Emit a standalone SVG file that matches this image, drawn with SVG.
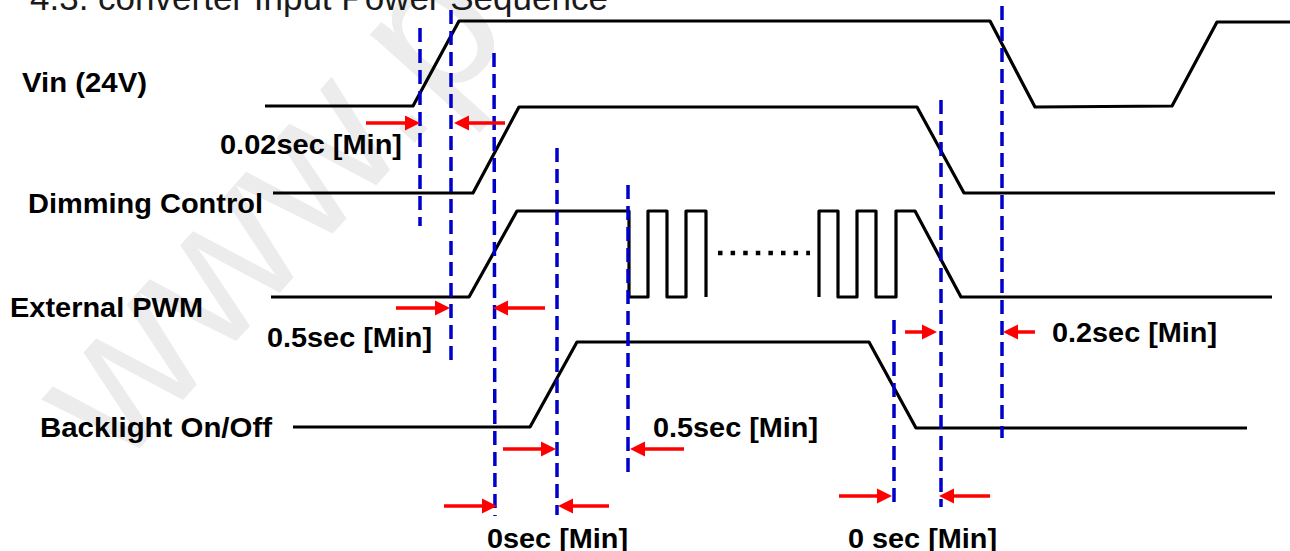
<svg xmlns="http://www.w3.org/2000/svg" width="1290" height="551" viewBox="0 0 1290 551">
<style>
.wm{font-family:"Liberation Sans",Arial,sans-serif;fill:#ececec}
.title{font-family:"Liberation Sans",Arial,sans-serif;font-size:35px;fill:#1a1a1a}
.lbl{font-family:"Liberation Sans",Arial,sans-serif;font-weight:bold;font-size:28.5px;fill:#000}
.sig{fill:none;stroke:#000;stroke-width:3.2;stroke-linejoin:round}
.dash{stroke:#0000cc;stroke-width:3.5;stroke-dasharray:14 7;fill:none}
.arr{stroke:#ff0000;stroke-width:3.5;fill:none;marker-end:url(#ah)}
</style>
<defs>
<marker id="ah" markerUnits="userSpaceOnUse" markerWidth="16" markerHeight="16" viewBox="0 0 16 16" refX="6" refY="8" orient="auto">
<path d="M0,0.5 L15,8 L0,15.5 z" fill="#ff0000"/>
</marker>
</defs>
<rect width="1290" height="551" fill="#fff"/>
<text class="wm" font-size="200" transform="translate(120,470) rotate(-48)">www.p</text>
<text class="title" x="30" y="10">4.3. converter Input Power Sequence</text>

<g id="vin">
<text class="lbl" x="22" y="92" textLength="125" lengthAdjust="spacingAndGlyphs">Vin (24V)</text>
<path class="sig" d="M265,106 L413,106 L459,21 L990,21 L1035,107 L1172,106 L1217,22 L1290,22"/>
</g>
<g id="dimming">
<text class="lbl" x="28" y="213" textLength="235" lengthAdjust="spacingAndGlyphs">Dimming Control</text>
<path class="sig" d="M273,193 L473,193 L519,107 L917,107 L964,193 L1275,193"/>
</g>
<g id="pwm">
<text class="lbl" x="10" y="317" textLength="193" lengthAdjust="spacingAndGlyphs">External PWM</text>
<path class="sig" d="M271,297 L469,297 L517,211 L629,211 L629,297 L648,297 L648,211 L667,211 L667,297 L686,297 L686,211 L706,211 L706,297"/>
<path d="M718,253 L810,253" stroke="#000" stroke-width="4.5" stroke-dasharray="4.5 8.1" fill="none"/>
<path class="sig" d="M819,297 L819,211 L838,211 L838,297 L857,297 L857,211 L876,211 L876,297 L896,297 L896,211 L915,211 L961,297 L1272,297"/>
</g>
<g id="backlight">
<text class="lbl" x="40" y="437" textLength="232" lengthAdjust="spacingAndGlyphs">Backlight On/Off</text>
<path class="sig" d="M293,427 L530,427 L577,342 L869,342 L916,428 L1247,428"/>
</g>

<g id="connectors">
<line class="dash" x1="420" y1="28" x2="420" y2="226"/>
<line class="dash" x1="451" y1="10" x2="451" y2="362"/>
<line class="dash" x1="494" y1="53" x2="495" y2="516"/>
<line class="dash" x1="557" y1="148" x2="557" y2="515"/>
<line class="dash" x1="628" y1="185" x2="628" y2="478"/>
<line class="dash" x1="894" y1="320" x2="894" y2="503"/>
<line class="dash" x1="941" y1="100" x2="941" y2="507"/>
<line class="dash" x1="1002" y1="6" x2="1002" y2="438"/>

<line class="arr" x1="366" y1="123" x2="411" y2="123"/>
<line class="arr" x1="505" y1="123" x2="463" y2="123"/>
<line class="arr" x1="396" y1="308" x2="441" y2="308"/>
<line class="arr" x1="545" y1="308" x2="502" y2="308"/>
<line class="arr" x1="503" y1="449" x2="547" y2="449"/>
<line class="arr" x1="684" y1="449" x2="639" y2="449"/>
<line class="arr" x1="444" y1="506" x2="488" y2="506"/>
<line class="arr" x1="609" y1="506" x2="567" y2="506"/>
<line class="arr" x1="905" y1="332" x2="928" y2="332"/>
<line class="arr" x1="1035" y1="332" x2="1012" y2="332"/>
<line class="arr" x1="839" y1="496" x2="883" y2="496"/>
<line class="arr" x1="990" y1="496" x2="948" y2="496"/>
</g>

<g id="labels">
<text class="lbl" x="220" y="154" textLength="182" lengthAdjust="spacingAndGlyphs">0.02sec [Min]</text>
<text class="lbl" x="267" y="347" textLength="165" lengthAdjust="spacingAndGlyphs">0.5sec [Min]</text>
<text class="lbl" x="653" y="437" textLength="165" lengthAdjust="spacingAndGlyphs">0.5sec [Min]</text>
<text class="lbl" x="1052" y="342" textLength="165" lengthAdjust="spacingAndGlyphs">0.2sec [Min]</text>
<text class="lbl" x="487" y="548" textLength="141" lengthAdjust="spacingAndGlyphs">0sec [Min]</text>
<text class="lbl" x="848" y="548" textLength="149" lengthAdjust="spacingAndGlyphs">0 sec [Min]</text>
</g>
</svg>
